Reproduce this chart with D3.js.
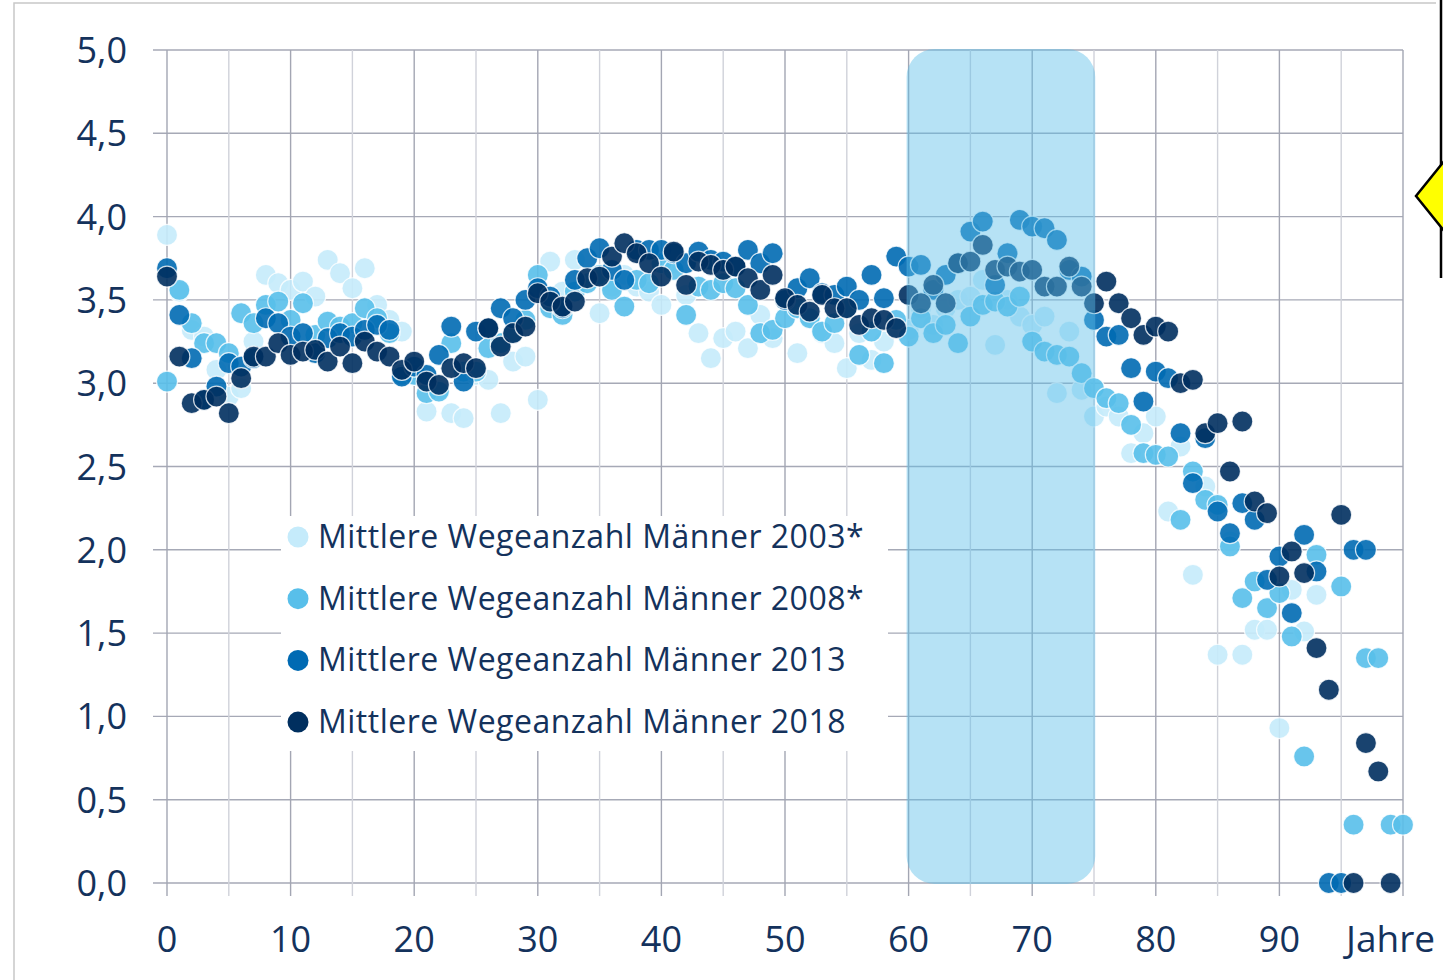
<!DOCTYPE html>
<html>
<head>
<meta charset="utf-8">
<script src="https://cdn.jsdelivr.net/npm/d3@7"></script>
<style>
  body { margin: 0; background: #fff; }
  svg text { font-family: "Open Sans", sans-serif; fill: #14325c; }
</style>
</head>
<body>
<svg id="chart" width="1443" height="980"></svg>
<script>
// mittlere Wegeanzahl je Altersjahr (Index = Alter)
const m2003 = [3.89,3.55,3.32,3.28,3.08,2.92,2.97,3.25,3.65,3.60,
  3.56,3.61,3.52,3.74,3.66,3.57,3.69,3.47,3.38,3.31,
  3.05,2.83,2.96,2.82,2.79,3.05,3.02,2.82,3.13,3.16,
  2.90,3.73,3.55,3.74,3.62,3.42,3.58,3.65,3.58,3.55,
  3.47,3.72,3.53,3.30,3.15,3.27,3.31,3.21,3.41,3.27,
  3.50,3.18,3.40,3.30,3.24,3.09,3.30,3.14,3.25,3.33,
  3.32,3.45,3.35,3.45,3.50,3.52,3.62,3.23,3.50,3.40,
  3.35,3.40,2.94,3.31,2.96,2.80,2.86,2.80,2.58,2.70,
  2.80,2.23,2.62,1.85,2.38,1.37,2.05,1.37,1.52,1.52,
  0.93,1.76,1.51,1.73];

const m2008 = [3.01,3.56,3.36,3.24,3.24,3.18,3.42,3.36,3.47,3.49,
  3.38,3.48,3.29,3.37,3.34,3.36,3.45,3.39,3.30,3.05,
  3.05,2.94,2.95,3.24,3.07,3.07,3.21,3.24,3.30,3.38,
  3.65,3.45,3.41,3.55,3.60,3.65,3.56,3.46,3.62,3.60,
  3.72,3.68,3.41,3.58,3.56,3.60,3.57,3.47,3.30,3.32,
  3.39,3.45,3.39,3.31,3.36,3.45,3.17,3.31,3.12,3.38,
  3.28,3.39,3.30,3.35,3.24,3.40,3.47,3.49,3.46,3.52,
  3.25,3.19,3.17,3.16,3.06,2.97,2.91,2.88,2.75,2.58,
  2.57,2.56,2.18,2.47,2.30,2.27,2.02,1.71,1.81,1.65,
  1.74,1.48,0.76,1.97,null,1.78,0.35,1.35,1.35,0.35,
  0.35];

const m2013 = [3.69,3.41,3.15,2.90,2.98,3.12,3.10,3.15,3.39,3.36,
  3.28,3.30,3.18,3.27,3.30,3.28,3.32,3.35,3.32,3.04,
  3.10,3.05,3.17,3.34,3.01,3.31,3.33,3.45,3.39,3.50,
  3.57,3.52,3.45,3.62,3.75,3.81,3.68,3.62,3.80,3.80,
  3.80,3.78,3.72,3.79,3.74,3.73,3.70,3.80,3.72,3.78,
  3.50,3.57,3.63,3.54,3.53,3.58,3.50,3.65,3.51,3.76,
  3.70,3.71,3.56,3.65,3.72,3.91,3.97,3.59,3.78,3.98,
  3.94,3.93,3.86,3.68,3.64,3.38,3.28,3.29,3.09,2.89,
  3.07,3.03,2.70,2.40,2.67,2.23,2.10,2.28,2.18,1.82,
  1.96,1.62,2.09,1.87,0.00,0.00,2.00,2.00];

const m2018 = [3.64,3.16,2.88,2.90,2.92,2.82,3.03,3.16,3.16,3.24,
  3.17,3.19,3.20,3.13,3.22,3.12,3.25,3.19,3.16,3.08,
  3.13,3.01,2.99,3.09,3.12,3.09,3.33,3.22,3.30,3.34,
  3.54,3.49,3.46,3.49,3.63,3.64,3.76,3.84,3.78,3.72,
  3.64,3.79,3.59,3.73,3.71,3.68,3.70,3.63,3.56,3.65,
  3.51,3.47,3.43,3.53,3.45,3.45,3.35,3.39,3.38,3.33,
  3.53,3.48,3.59,3.48,3.72,3.73,3.83,3.68,3.70,3.67,
  3.68,3.58,3.58,3.70,3.58,3.48,3.61,3.48,3.39,3.29,
  3.34,3.31,3.00,3.02,2.70,2.76,2.47,2.77,2.29,2.22,
  1.84,1.99,1.86,1.41,1.16,2.21,0.00,0.84,0.67,0.00];

const seriesNames = ["Mittlere Wegeanzahl Männer 2003*", "Mittlere Wegeanzahl Männer 2008*",
  "Mittlere Wegeanzahl Männer 2013", "Mittlere Wegeanzahl Männer 2018"];
const seriesColors = ["#c5ebfb", "#58bfea", "#006ab3", "#002f5f"];
const yTicks = [0, 0.5, 1, 1.5, 2, 2.5, 3, 3.5, 4, 4.5, 5];
const xLabelTicks = [0, 10, 20, 30, 40, 50, 60, 70, 80, 90];
const highlight = [60, 75.1];

const svg = d3.select("#chart");

const x = d3.scaleLinear().domain([0, 100]).range([167, 1403]);
const y = d3.scaleLinear().domain([0, 5]).range([883, 50]);

// Rahmen
svg.append("path")
  .attr("d", "M14,980 V3 H1436")
  .attr("fill", "none")
  .attr("stroke", "#c8c8c8")
  .attr("stroke-width", 1.5);

// Gitter
const grid = svg.append("g");
grid.selectAll(".hline")
  .data(yTicks)
  .join("line")
    .attr("x1", 153).attr("x2", x(100))
    .attr("y1", d => y(d)).attr("y2", d => y(d))
    .attr("stroke", "#a6a9b6")
    .attr("stroke-width", 1.4);

grid.selectAll(".vline")
  .data(d3.range(0, 101, 5))
  .join("line")
    .attr("x1", d => x(d)).attr("x2", d => x(d))
    .attr("y1", y(5)).attr("y2", y(0) + 13)
    .attr("stroke", d => d % 10 === 0 ? "#a3a6b3" : "#d0d2da")
    .attr("stroke-width", 1.4);

// Achsenbeschriftung
svg.append("g").selectAll("text")
  .data(yTicks)
  .join("text")
    .attr("x", 127)
    .attr("y", d => y(d) + 13)
    .attr("text-anchor", "end")
    .attr("font-size", 36)
    .text(d => d3.format(".1f")(d).replace(".", ","));

svg.append("g").selectAll("text")
  .data(xLabelTicks)
  .join("text")
    .attr("x", d => x(d))
    .attr("y", 952)
    .attr("text-anchor", "middle")
    .attr("font-size", 36)
    .text(d => d);

svg.append("text")
  .attr("x", 1346)
  .attr("y", 952)
  .attr("font-size", 37)
  .text("Jahre");

// Punkte
const allSeries = [m2003, m2008, m2013, m2018];
allSeries.forEach(function(vals, i) {
  const pts = vals.map((v, age) => ({age: age, v: v})).filter(d => d.v !== null);
  svg.append("g").selectAll("circle")
    .data(pts)
    .join("circle")
      .attr("cx", d => x(d.age))
      .attr("cy", d => y(d.v))
      .attr("r", 10.5)
      .attr("fill", seriesColors[i])
      .attr("fill-opacity", 0.9)
      .attr("stroke", "#ffffff")
      .attr("stroke-opacity", 0.8)
      .attr("stroke-width", 1.2);
});

// markierter Bereich 60-75
svg.append("rect")
  .attr("x", x(highlight[0]) - 2)
  .attr("y", y(5) - 1)
  .attr("width", x(highlight[1]) - x(highlight[0]) + 2)
  .attr("height", y(0) - y(5) + 2)
  .attr("rx", 28)
  .attr("fill", "#5dbfe8")
  .attr("fill-opacity", 0.45);

// Legende
const legend = svg.append("g");
legend.append("rect")
  .attr("x", 281).attr("y", 516)
  .attr("width", 607).attr("height", 235)
  .attr("fill", "#ffffff");

const rows = legend.selectAll(".row")
  .data(seriesNames)
  .join("g")
    .attr("transform", (d, i) => `translate(298,${537 + i * 61.7})`);

rows.append("circle")
  .attr("r", 10.5)
  .attr("fill", (d, i) => seriesColors[i]);

rows.append("text")
  .attr("x", 20)
  .attr("y", 11)
  .attr("font-size", 32)
  .attr("letter-spacing", 0.5)
  .text(d => d);

// Pfeil am rechten Rand (abgeschnitten)
svg.append("line")
  .attr("x1", 1441).attr("x2", 1441)
  .attr("y1", 0).attr("y2", 278)
  .attr("stroke", "#000")
  .attr("stroke-width", 2.5);

svg.append("path")
  .attr("d", "M1445,160 L1416,196 L1445,232")
  .attr("fill", "#ffff00")
  .attr("stroke", "#000")
  .attr("stroke-width", 2.5);
</script>
</body>
</html>
